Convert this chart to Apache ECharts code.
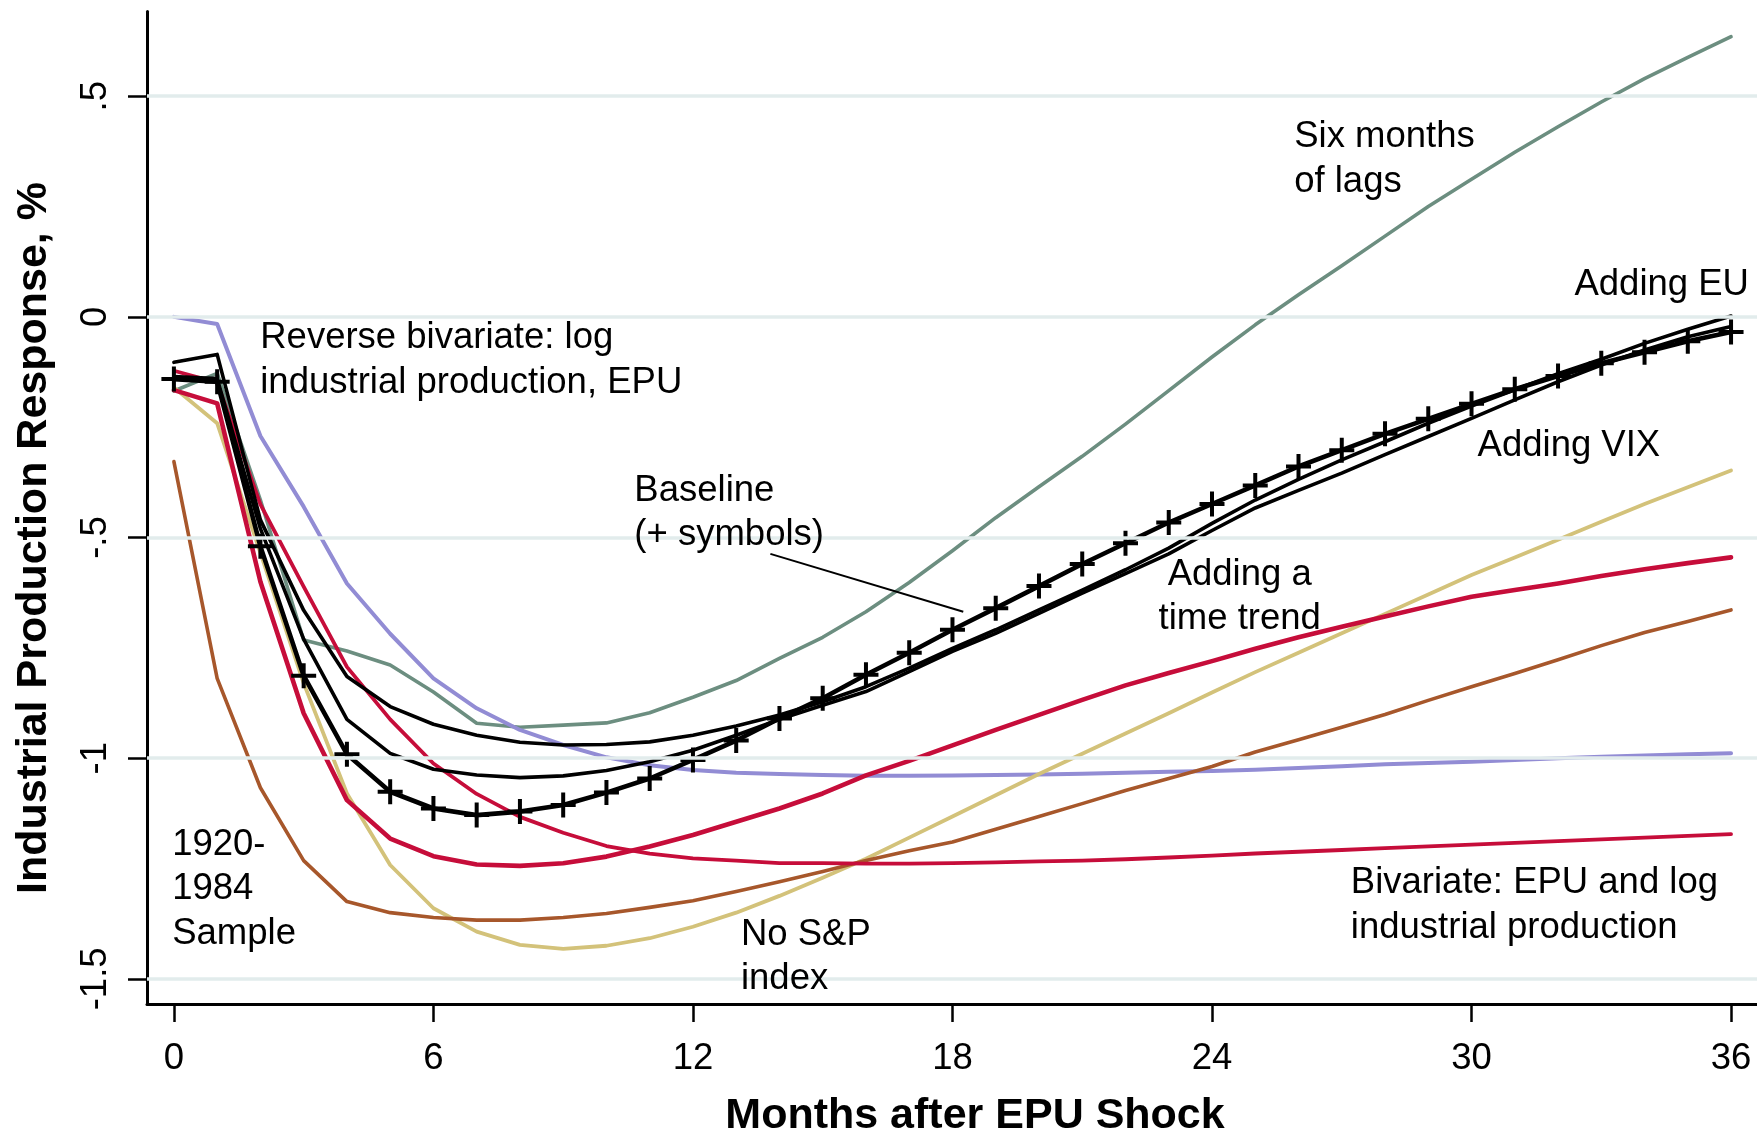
<!DOCTYPE html>
<html>
<head>
<meta charset="utf-8">
<script src="https://cdn.jsdelivr.net/npm/echarts@6/dist/echarts.min.js"></script>
<style>
html,body{margin:0;padding:0;background:#ffffff;}
#c{width:1757px;height:1130px;}
</style>
</head>
<body>
<div id="c"></div>
<script>
// ---------- DATA ----------
const months = [0,1,2,3,4,5,6,7,8,9,10,11,12,13,14,15,16,17,18,19,20,21,22,23,24,25,26,27,28,29,30,31,32,33,34,35,36];

const xTicks = [0,6,12,18,24,30,36];
const yTicks = [-1.5,-1,-0.5,0,0.5];
const yTickLabels = ["-1.5","-1","-.5","0",".5"];

const baseline = [-0.141,-0.147,-0.520,-0.813,-0.991,-1.076,-1.114,-1.129,-1.121,-1.106,-1.078,-1.046,-1.004,-0.960,-0.910,-0.864,-0.811,-0.761,-0.709,-0.660,-0.610,-0.560,-0.513,-0.466,-0.424,-0.382,-0.339,-0.302,-0.265,-0.231,-0.197,-0.164,-0.134,-0.105,-0.080,-0.055,-0.034];
const addingEU = [-0.103,-0.085,-0.460,-0.665,-0.815,-0.883,-0.923,-0.948,-0.964,-0.970,-0.969,-0.963,-0.948,-0.927,-0.902,-0.872,-0.838,-0.796,-0.751,-0.709,-0.664,-0.619,-0.573,-0.524,-0.468,-0.415,-0.368,-0.324,-0.283,-0.241,-0.202,-0.165,-0.129,-0.096,-0.060,-0.028,0.002];
const addingVIX = [-0.135,-0.140,-0.480,-0.730,-0.912,-0.989,-1.025,-1.038,-1.044,-1.040,-1.028,-1.008,-0.982,-0.948,-0.912,-0.880,-0.849,-0.804,-0.758,-0.717,-0.672,-0.626,-0.582,-0.537,-0.484,-0.433,-0.393,-0.354,-0.312,-0.271,-0.230,-0.188,-0.147,-0.109,-0.075,-0.045,-0.022];
const sixLags = [-0.168,-0.128,-0.415,-0.732,-0.757,-0.789,-0.850,-0.921,-0.930,-0.925,-0.920,-0.897,-0.862,-0.824,-0.774,-0.726,-0.668,-0.602,-0.530,-0.455,-0.385,-0.316,-0.243,-0.167,-0.091,-0.018,0.050,0.116,0.183,0.250,0.312,0.373,0.431,0.487,0.540,0.588,0.635];
const reverseBivariate = [0.000,-0.016,-0.270,-0.430,-0.604,-0.718,-0.819,-0.887,-0.936,-0.970,-0.998,-1.016,-1.027,-1.033,-1.036,-1.038,-1.040,-1.040,-1.039,-1.038,-1.037,-1.035,-1.033,-1.031,-1.029,-1.026,-1.022,-1.018,-1.014,-1.011,-1.008,-1.004,-1.000,-0.997,-0.994,-0.991,-0.989];
const noSP = [-0.160,-0.241,-0.535,-0.830,-1.080,-1.242,-1.340,-1.393,-1.423,-1.432,-1.425,-1.408,-1.382,-1.350,-1.312,-1.271,-1.228,-1.180,-1.132,-1.084,-1.036,-0.990,-0.944,-0.898,-0.851,-0.805,-0.761,-0.717,-0.673,-0.629,-0.585,-0.545,-0.505,-0.464,-0.424,-0.386,-0.348];
const redSpec = [-0.166,-0.196,-0.600,-0.898,-1.095,-1.182,-1.222,-1.241,-1.244,-1.238,-1.223,-1.200,-1.174,-1.144,-1.114,-1.080,-1.039,-1.006,-0.971,-0.936,-0.902,-0.868,-0.835,-0.807,-0.780,-0.752,-0.726,-0.702,-0.679,-0.656,-0.634,-0.619,-0.604,-0.587,-0.572,-0.558,-0.545];
const bivariate = [-0.122,-0.149,-0.425,-0.611,-0.793,-0.912,-1.012,-1.081,-1.133,-1.169,-1.199,-1.216,-1.227,-1.232,-1.238,-1.238,-1.239,-1.239,-1.238,-1.236,-1.234,-1.232,-1.229,-1.225,-1.221,-1.216,-1.212,-1.208,-1.204,-1.200,-1.196,-1.192,-1.188,-1.184,-1.180,-1.176,-1.172];
const sample1920 = [-0.328,-0.819,-1.067,-1.232,-1.325,-1.350,-1.361,-1.367,-1.367,-1.361,-1.352,-1.338,-1.323,-1.302,-1.280,-1.257,-1.232,-1.210,-1.190,-1.161,-1.132,-1.103,-1.073,-1.046,-1.019,-0.986,-0.958,-0.930,-0.901,-0.869,-0.838,-0.808,-0.777,-0.745,-0.715,-0.690,-0.664];

// annotation texts, anchored in data coordinates (month, response)
const annotations = [
  {text:"Reverse bivariate: log\nindustrial production, EPU", m:1.996, v:0.0116, align:"left"},
  {text:"Baseline\n(+ symbols)", m:10.645, v:-0.3344, align:"left"},
  {text:"Six months\nof lags", m:25.90, v:0.4662, align:"left"},
  {text:"Adding EU", m:32.38, v:0.1325, align:"left"},
  {text:"Adding VIX", m:30.14, v:-0.2338, align:"left"},
  {text:"Adding a\ntime trend", m:24.64, v:-0.5245, align:"center"},
  {text:"1920-\n1984\nSample", m:-0.04, v:-1.137, align:"left"},
  {text:"No S&P\nindex", m:13.11, v:-1.3405, align:"left"},
  {text:"Bivariate: EPU and log\nindustrial production", m:27.21, v:-1.2232, align:"left"}
];
const leader = [[13.79,-0.537],[18.25,-0.668]];

// ---------- CHART ----------
const FONT = '"Liberation Sans", Arial, Helvetica, sans-serif';
const FS = 36.5;
const plusPath = 'path://M4.2,0h1.6v4.2h4.2v1.6h-4.2v4.2h-1.6v-4.2h-4.2v-1.6h4.2z';

function pairs(arr){ return months.map((m,i)=>[m, arr[i]]); }
function lineSeries(name, arr, color, width, z){
  return {
    name: name, type:'line', data: pairs(arr),
    symbol:'none', showSymbol:false, silent:true, animation:false,
    lineStyle:{color:color, width:width, cap:'round', join:'round'},
    itemStyle:{color:color}, z: z||2
  };
}

const chart = echarts.init(document.getElementById('c'), null, {renderer:'canvas'});

const option = {
  animation:false,
  backgroundColor:'#ffffff',
  grid:{left:147, right:0, top:11.5, bottom:126, containLabel:false},
  xAxis:{
    type:'value', min:-0.622, max:36.6,
    axisLine:{show:true, onZero:false, lineStyle:{color:'#000', width:3}},
    axisTick:{show:true, customValues:xTicks, length:18, lineStyle:{color:'#000', width:2.5}},
    axisLabel:{show:true, customValues:xTicks, color:'#000', fontSize:FS, fontFamily:FONT, margin:36},
    splitLine:{show:false}
  },
  yAxis:{
    type:'value', min:-1.557, max:0.692,
    axisLine:{show:true, onZero:false, lineStyle:{color:'#000', width:3}},
    axisTick:{show:true, customValues:yTicks, length:19, lineStyle:{color:'#000', width:2.5}},
    axisLabel:{show:true, customValues:yTicks, color:'#000', fontSize:FS, fontFamily:FONT,
      rotate:90, margin:33, align:'center', verticalAlign:'bottom',
      formatter:function(v){
        for(let i=0;i<yTicks.length;i++){ if(Math.abs(yTicks[i]-v)<1e-6) return yTickLabels[i]; }
        return '';
      }},
    splitLine:{show:false}
  },
  series:[
    {
      name:'gridlines', type:'line', data:[], silent:true, z:1,
      markLine:{silent:true, symbol:['none','none'], animation:false,
        label:{show:false},
        lineStyle:{color:'#e2ecec', width:3.5, type:'solid'},
        data: yTicks.map(v=>({yAxis:v}))}
    },
    lineSeries('Six months of lags', sixLags, '#6c8e80', 3.6),
    lineSeries('Reverse bivariate: log industrial production, EPU', reverseBivariate, '#928cd4', 4),
    lineSeries('No S&P index', noSP, '#d3c27a', 3.8),
    lineSeries('1920-1984 Sample', sample1920, '#a7572b', 3.6),
    lineSeries('Bivariate: EPU and log industrial production', bivariate, '#c60d3a', 3.8),
    lineSeries('Red specification', redSpec, '#c60d3a', 4.6),
    lineSeries('Adding EU', addingEU, '#000000', 3.6, 3),
    lineSeries('Adding VIX', addingVIX, '#000000', 3.6, 3),
    {
      name:'Baseline', type:'line', data: pairs(baseline),
      symbol: plusPath, symbolSize:25, showSymbol:true, showAllSymbol:true,
      silent:true, animation:false, z:4,
      lineStyle:{color:'#000', width:4.6, join:'round'},
      itemStyle:{color:'#000', borderWidth:0},
      markLine:{silent:true, symbol:['none','none'], animation:false, label:{show:false},
        lineStyle:{color:'#000', width:2, type:'solid'},
        data:[[{coord:leader[0]},{coord:leader[1]}]]}
    }
  ]
};
chart.setOption(option);

// annotation labels and axis titles
const gfx = [];
annotations.forEach(a=>{
  const p = chart.convertToPixel({gridIndex:0}, [a.m, a.v]);
  gfx.push({type:'text', x:p[0], y:p[1] + 4, silent:true, z:10,
    style:{text:a.text, fill:'#000', fontSize:FS, fontFamily:FONT, lineHeight:44.5,
      align:a.align, verticalAlign:'top'}});
});
gfx.push({type:'text', x:34, y:538, rotation:Math.PI/2, silent:true, z:10,
  style:{text:'Industrial Production Response, %', fill:'#000', fontSize:43, fontWeight:'bold',
    fontFamily:FONT, align:'center', verticalAlign:'middle'}});
gfx.push({type:'text', x:975, y:1116, silent:true, z:10,
  style:{text:'Months after EPU Shock', fill:'#000', fontSize:43, fontWeight:'bold',
    fontFamily:FONT, align:'center', verticalAlign:'middle'}});
chart.setOption({graphic:gfx});
</script>
</body>
</html>
